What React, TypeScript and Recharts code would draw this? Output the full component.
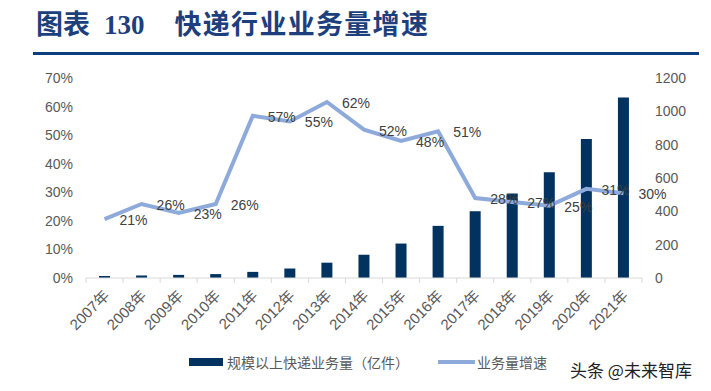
import { ComposedChart, Bar, Line, XAxis, YAxis, LabelList } from 'recharts';

const years = ['2007年', '2008年', '2009年', '2010年', '2011年', '2012年', '2013年', '2014年', '2015年', '2016年', '2017年', '2018年', '2019年', '2020年', '2021年'];
// 规模以上快递业务量（亿件）
const volume = [12.0, 15.1, 18.6, 23.4, 36.7, 56.9, 91.9, 139.6, 206.7, 312.8, 400.6, 507.1, 635.2, 833.6, 1083.0];
// 业务量增速（%）
const growth = [20.6, 25.9, 22.8, 25.9, 56.8, 54.8, 61.6, 51.9, 48.0, 51.3, 28.0, 26.6, 25.3, 31.2, 29.7];
const leftTicks = [0, 10, 20, 30, 40, 50, 60, 70];
const rightTicks = [0, 200, 400, 600, 800, 1000, 1200];

const data = years.map((year, i) => ({ year, volume: volume[i], growth: growth[i] }));

const BAR_COLOR = '#02325f';
const LINE_COLOR = '#8eaadb';
const TEXT = '#595959';
const FONT = "'Liberation Sans', Arial, 'Noto Sans CJK SC', sans-serif";

const PLOT_LEFT = 86;
const PLOT_RIGHT = 642;
const BAND = (PLOT_RIGHT - PLOT_LEFT) / years.length;

const YearTick = (props: any) => {
  const { x, y, payload, index } = props;
  return (
    <g>
      {index === 0 && <line x1={x - BAND / 2} x2={x - BAND / 2} y1={y} y2={y + 5} stroke="#d9d9d9" />}
      <line x1={x + BAND / 2} x2={x + BAND / 2} y1={y} y2={y + 5} stroke="#d9d9d9" />
      <text
        x={x + 2}
        y={y + 15}
        dy="0.35em"
        textAnchor="end"
        transform={`rotate(-45 ${x + 2} ${y + 15})`}
        fontSize={15}
        fill={TEXT}
        fontFamily={FONT}
      >
        {payload.value}
      </text>
    </g>
  );
};

const GrowthLabel = (props: any) => {
  const { x, y, value } = props;
  return (
    <text x={x + 15} y={y + 1} dy="0.35em" fontSize={14} fill="#404040" fontFamily={FONT}>
      {`${Math.round(value)}%`}
    </text>
  );
};

const App = () => (
  <div style={{ position: 'absolute', left: 0, top: 0, width: 711, height: 391, background: '#fff', overflow: 'hidden' }}>
    <div
      style={{
        position: 'absolute',
        left: 36,
        top: 6,
        fontSize: 27,
        fontWeight: 'bold',
        color: '#1d3f7d',
        fontFamily: "'Liberation Serif', 'Noto Sans CJK SC', serif",
        whiteSpace: 'nowrap',
        lineHeight: '38px',
      }}
    >
      <span>图表</span>
      <span style={{ marginLeft: 14 }}>130</span>
      <span style={{ marginLeft: 30, letterSpacing: 1.3 }}>快递行业业务量增速</span>
    </div>
    <div style={{ position: 'absolute', left: 33, top: 52, width: 666, height: 3, background: '#0b3d80' }} />

    <ComposedChart
      width={711}
      height={391}
      data={data}
      margin={{ top: 78, right: 0, left: 0, bottom: 53 }}
      style={{ position: 'absolute', left: 0, top: 0 }}
    >
      <XAxis
        dataKey="year"
        height={60}
        interval={0}
        tickLine={false}
        tickSize={0}
        tickMargin={0}
        axisLine={{ stroke: '#d9d9d9' }}
        tick={<YearTick />}
      />
      <YAxis
        yAxisId="left"
        width={PLOT_LEFT}
        domain={[0, 70]}
        ticks={leftTicks}
        tickFormatter={(v) => `${v}%`}
        axisLine={false}
        tickLine={false}
        tickMargin={7}
        tick={{ fontSize: 14, fill: TEXT, fontFamily: FONT }}
      />
      <YAxis
        yAxisId="right"
        orientation="right"
        width={711 - PLOT_RIGHT}
        domain={[0, 1200]}
        ticks={rightTicks}
        axisLine={false}
        tickLine={false}
        tickMargin={7}
        tick={{ fontSize: 14, fill: TEXT, fontFamily: FONT, textAnchor: 'start' }}
      />
      <Bar yAxisId="right" dataKey="volume" fill={BAR_COLOR} barSize={11} isAnimationActive={false} />
      <Line
        yAxisId="left"
        dataKey="growth"
        stroke={LINE_COLOR}
        strokeWidth={4}
        dot={false}
        isAnimationActive={false}
      >
        <LabelList dataKey="growth" content={<GrowthLabel />} />
      </Line>
    </ComposedChart>

    <div style={{ position: 'absolute', left: 189, top: 358, width: 34, height: 8, background: BAR_COLOR }} />
    <div
      style={{ position: 'absolute', left: 227, top: 352, fontSize: 14, lineHeight: '20px', color: TEXT, fontFamily: "'Noto Sans CJK SC', sans-serif", whiteSpace: 'nowrap' }}
    >
      规模以上快递业务量（亿件）
    </div>
    <div style={{ position: 'absolute', left: 438, top: 360, width: 37, height: 4, background: LINE_COLOR }} />
    <div
      style={{ position: 'absolute', left: 477, top: 352, fontSize: 14, lineHeight: '20px', color: TEXT, fontFamily: "'Noto Sans CJK SC', sans-serif", whiteSpace: 'nowrap' }}
    >
      业务量增速
    </div>
    <div
      style={{ position: 'absolute', left: 570, top: 358, fontSize: 17, lineHeight: '24px', color: '#222', fontFamily: "'Noto Sans CJK SC', sans-serif", whiteSpace: 'nowrap' }}
    >
      头条 @未来智库
    </div>
  </div>
);

export default App;
